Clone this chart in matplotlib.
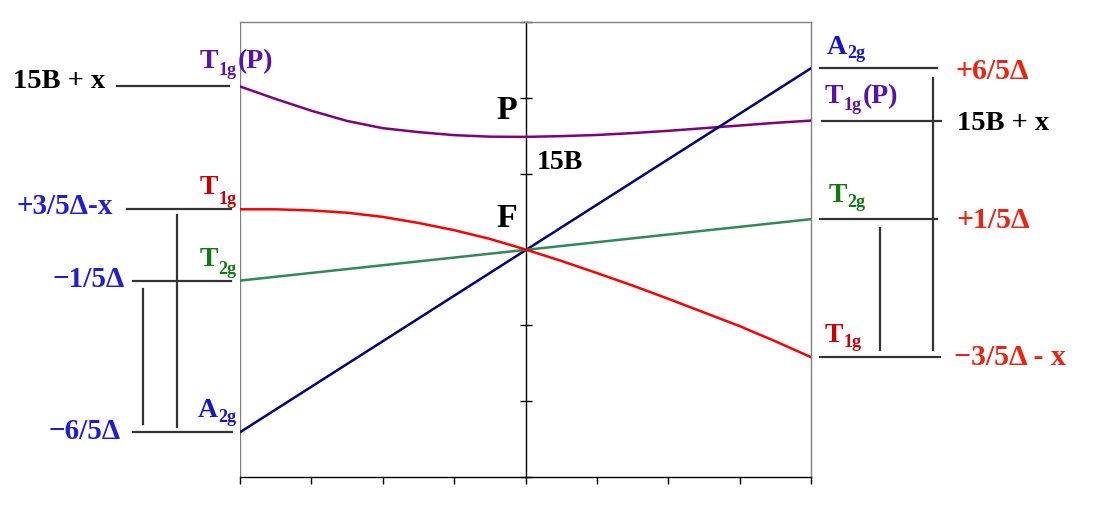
import matplotlib
matplotlib.use("Agg")
import matplotlib.pyplot as plt
from matplotlib.transforms import blended_transform_factory

# ---------------- data ----------------
x_a2g = [-4, 4]
y_a2g = [-2.41, 2.39]

x_t2g = [-4, 4]
y_t2g = [-0.41, 0.40]

x_t1g = [-4, -3.5, -3, -2.5, -2, -1.5, -1, -0.5, 0, 0.5, 1, 1.5, 2, 2.5, 3, 3.5, 4]
y_t1g = [0.53, 0.53, 0.515, 0.485, 0.43, 0.35, 0.255, 0.14, 0.0,
         -0.15, -0.31, -0.475, -0.65, -0.83, -1.01, -1.21, -1.42]

x_t1gp = [-4, -3.5, -3, -2.5, -2, -1.5, -1, -0.5, 0, 0.5, 1, 1.5, 2, 2.5, 3, 3.5, 4]
y_t1gp = [2.15, 1.985, 1.83, 1.695, 1.60, 1.548, 1.508, 1.488, 1.485,
          1.495, 1.51, 1.535, 1.565, 1.60, 1.635, 1.67, 1.70]

x_ticks = [-4, -3, -2, -1, 0, 1, 2, 3, 4]
y_ticks = [-3, -2, -1, 0, 1, 2, 3]

W, H = 1096, 511
SERIF = "Liberation Serif"

fig = plt.figure(figsize=(W / 100, H / 100), dpi=100)
fig.patch.set_facecolor("white")


def fx(px):
    return px / W


def fy(py):
    return 1 - py / H


ax = fig.add_axes([fx(240), fy(477), fx(811) - fx(240), fy(22) - fy(477)])
ax.set_xlim(-4, 4)
ax.set_ylim(-3, 3)

# frame
for s in ["top", "right"]:
    ax.spines[s].set_color("#808080")
    ax.spines[s].set_linewidth(1.0)
ax.spines["bottom"].set_color("#000000")
ax.spines["bottom"].set_linewidth(1.0)
ax.spines["left"].set_position(("data", 0))
ax.spines["left"].set_color("#000000")
ax.spines["left"].set_linewidth(1.0)
ax.axvline(-4, color="#808080", lw=1.0, zorder=0)

ax.set_xticks(x_ticks)
ax.set_xticklabels([])
ax.tick_params(axis="x", direction="out", length=5, width=1, color="#000000")
ax.set_yticks(y_ticks)
ax.set_yticklabels([])
ax.tick_params(axis="y", direction="inout", length=9, width=1, color="#000000")

# curves
ax.plot(x_t1gp, y_t1gp, color="#800080", lw=1.8, zorder=3)
ax.plot(x_a2g, y_a2g, color="#000080", lw=1.8, zorder=3)
ax.plot(x_t2g, y_t2g, color="#2e8b57", lw=1.8, zorder=3)
ax.plot(x_t1g, y_t1g, color="#ff0000", lw=1.8, zorder=4)

# level lines and brackets (x in figure pixels, y in data)
trans = blended_transform_factory(fig.transFigure, ax.transData)
LC = "#333333"


def hline(px0, px1, y):
    ax.plot([fx(px0), fx(px1)], [y, y], transform=trans, clip_on=False,
            color=LC, lw=1.6)


def vline(px, y0, y1):
    ax.plot([fx(px), fx(px)], [y0, y1], transform=trans, clip_on=False,
            color=LC, lw=1.6)


# left side levels
hline(117, 229, y_t1gp[0])
hline(127, 231, y_t1g[0])
hline(133, 231, y_t2g[0])
hline(133, 232, y_a2g[0])
vline(143, y_t2g[0] - 0.11, y_a2g[0] + 0.11)
vline(177, y_t1g[0] - 0.08, y_a2g[0] + 0.07)

# right side levels
hline(820, 937, y_a2g[-1])
hline(822, 941, y_t1gp[-1])
hline(820, 937, y_t2g[-1])
hline(820, 940, y_t1g[-1])
vline(933, y_a2g[-1] - 0.13, y_t1g[-1] + 0.09)
vline(880, y_t2g[-1] - 0.11, y_t1g[-1] + 0.09)

# ---------------- text ----------------
renderer = fig.canvas.get_renderer()


def txt(px, py, s, color, size=19, weight="bold"):
    return fig.text(fx(px), fy(py), s, ha="left", va="baseline", color=color,
                    fontsize=size, fontweight=weight, family=SERIF)


def sub_label(px, py, main, sub, color, drop, tail=None, size=20, subsize=13,
              gap=0):
    t = txt(px, py, main, color, size=size)
    bb = t.get_window_extent(renderer)
    sx = bb.x1 + gap
    s = fig.text(sx / W, fy(py + drop), sub, ha="left", va="baseline",
                 color=color, fontsize=subsize, fontweight="bold", family=SERIF)
    if tail:
        sb = s.get_window_extent(renderer)
        fig.text((sb.x1 + 1) / W, fy(py), tail, ha="left", va="baseline",
                 color=color, fontsize=size, fontweight="bold", family=SERIF)


BLUE = "#1e1ed8"
RED = "#ee2211"
PURPLE = "#5a10b0"
DRED = "#cc0000"
GREEN = "#107a10"
ABLUE = "#1414d0"

# left values
txt(13, 88, "15B + x", "#000000", size=20.5)
txt(17, 214, "+3/5\u0394-x", BLUE, size=21)
txt(52, 287, "\u22121/5\u0394", BLUE, size=21)
txt(48, 439, "\u22126/5\u0394", BLUE, size=21)

# left term symbols
sub_label(200, 68, "T", "1g", PURPLE, 7, tail="(P)")
sub_label(200, 194, "T", "1g", DRED, 10)
sub_label(200, 266, "T", "2g", GREEN, 8)
sub_label(198, 417, "A", "2g", ABLUE, 5)

# right term symbols
sub_label(827, 54, "A", "2g", ABLUE, 4)
sub_label(825, 103, "T", "1g", PURPLE, 7, tail="(P)")
sub_label(829, 202, "T", "2g", GREEN, 5)
sub_label(825, 342, "T", "1g", DRED, 5)

# right values
txt(955, 79, "+6/5\u0394", RED, size=21.5)
txt(957, 130, "15B + x", "#000000", size=20.5)
txt(956, 228, "+1/5\u0394", RED, size=21.5)
txt(954, 365, "\u22123/5\u0394 - x", RED, size=21.5)

# centre labels
txt(496, 119, "P", "#000000", size=24.5)
txt(496, 227, "F", "#000000", size=24.5)
txt(537, 169, "15B", "#000000", size=20)

fig.savefig("out.png", dpi=100, facecolor="white")
